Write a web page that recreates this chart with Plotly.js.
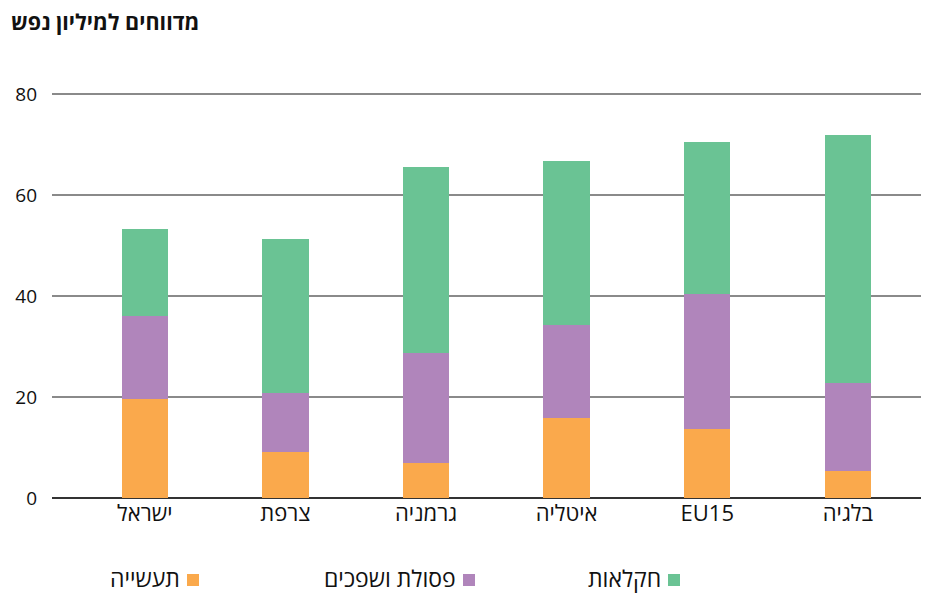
<!DOCTYPE html>
<html>
<head>
<meta charset="utf-8">
<script src="https://cdn.plot.ly/plotly-3.0.1.min.js"></script>
<style>html,body{margin:0;padding:0;background:#fff;}#chart{width:934px;height:594px;}</style>
</head>
<body>
<div id="chart"></div>
<script>
const categories = ["ישראל", "צרפת", "גרמניה", "איטליה", "EU15", "בלגיה"];
const industry = [19.6, 9.1, 6.9, 15.8, 13.7, 5.3];
const waste = [16.4, 11.7, 21.8, 18.5, 26.7, 17.5];
const agriculture = [17.3, 30.5, 36.8, 32.4, 30.1, 49.1];
const seriesNames = ["תעשייה", "פסולת ושפכים", "חקלאות"];
const seriesColors = ["#FAA94C", "#B085BB", "#6AC394"];
const yTicks = [0, 20, 40, 60, 80];
const titleText = "מדווחים למיליון נפש";

const FONT = "'Open Sans', 'DejaVu Sans', sans-serif";
const W = 934, H = 594;
const M = {l: 52, r: 13, t: 84, b: 96};
const pw = W - M.l - M.r, ph = H - M.t - M.b;
const px = x => (x - M.l) / pw;
const py = y => (H - M.b - y) / ph;

const values = [industry, waste, agriculture];
const traces = values.map((v, i) => ({
  type: 'bar', x: categories, y: v, name: seriesNames[i],
  marker: {color: seriesColors[i], line: {width: 0}},
  width: 0.33, showlegend: false, hoverinfo: 'y'
}));

// custom RTL legend: text left of square
const legendItems = [
  {name: seriesNames[2], color: seriesColors[2], sq: 668},
  {name: seriesNames[1], color: seriesColors[1], sq: 463},
  {name: seriesNames[0], color: seriesColors[0], sq: 187}
];
const shapes = [], annotations = [];
legendItems.forEach(it => {
  shapes.push({type: 'rect', xref: 'paper', yref: 'paper',
    x0: px(it.sq), x1: px(it.sq + 12), y0: py(586), y1: py(574),
    fillcolor: it.color, line: {width: 0}});
  annotations.push({xref: 'paper', yref: 'paper', x: px(it.sq - 6), y: py(578),
    xanchor: 'right', yanchor: 'middle', showarrow: false, text: it.name, borderpad: 0,
    font: {family: FONT, size: 23, color: '#111'}});
});

const layout = {
  width: W, height: H,
  margin: M,
  paper_bgcolor: '#fff', plot_bgcolor: '#fff',
  barmode: 'stack',
  title: {text: '<b>' + titleText + '</b>', x: 11 / W, xanchor: 'left', y: 1 - 22 / H, yanchor: 'middle',
    font: {family: FONT, size: 21.5, color: '#111'}},
  xaxis: {type: 'category', range: [-0.66, 5.52], showgrid: false, zeroline: false,
    showline: false, ticks: '', tickfont: {family: FONT, size: 22, color: '#111'},
    fixedrange: true},
  yaxis: {range: [0, 82], tickvals: yTicks, showgrid: true, gridcolor: '#8a8a8a', gridwidth: 1.5,
    zeroline: true, zerolinecolor: '#333', zerolinewidth: 2,
    showline: false, ticks: '', ticklabelstandoff: 14,
    tickfont: {family: FONT, size: 19, color: '#111'}, fixedrange: true},
  shapes: shapes,
  annotations: annotations
};

Plotly.newPlot('chart', traces, layout, {displayModeBar: false, staticPlot: true});
</script>
</body>
</html>
